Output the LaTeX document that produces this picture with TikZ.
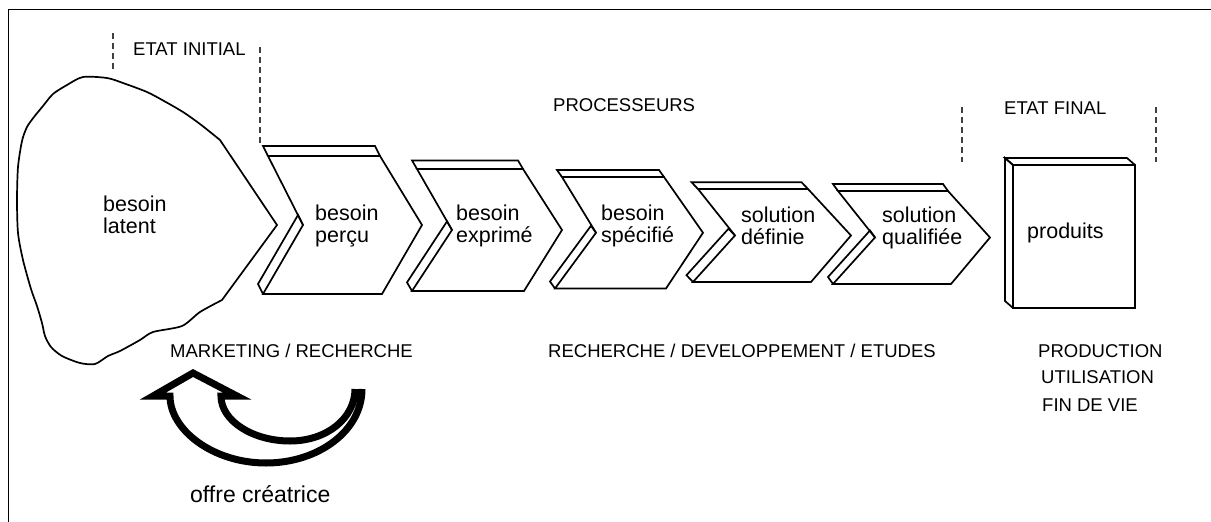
\documentclass[tikz,border=0pt]{standalone}
\usepackage{fontspec}
\setmainfont{Liberation Sans}
\tikzset{
  chev/.style={draw=black, line width=1.7pt, line join=miter},
  blob/.style={draw=black, line width=1.7pt},
  dashline/.style={draw=black!75, line width=1.1pt, dash pattern=on 6pt off 4pt},
  lbl/.style={inner sep=0pt, anchor=west, align=left, font=\fontsize{21.5}{21.5}\selectfont},
  caps/.style={inner sep=0pt, anchor=west, align=left, font=\fontsize{18.5}{26}\selectfont},
  bigarrow/.style={draw=black, line width=7pt, line cap=butt, line join=miter, miter limit=30},
}
% #1 TLx #2 T #3 TRx #4 tipx #5 BRx #6 B #7 BLx #8 notchx #9 dy ; \dx set before
\newcommand{\mychev}[9]{%
  \draw[chev] (#1,#2) -- (#3,#2) -- (#4,{(#2+#6)/2}) -- (#5,#6) -- (#7,#6) -- (#8,{(#2+#6)/2}) -- cycle;
  \draw[chev] (#1,#2) -- ++(\dx,#9) -- ++({#3-#1},0) -- (#3,#2);
  \draw[chev] (#8,{(#2+#6)/2}) -- ++(\dx,#9) -- ++({#7-#8},{#6-(#2+#6)/2}) -- (#7,#6);
}
\begin{document}
\begin{tikzpicture}[x=1pt,y=-1pt]
\useasboundingbox (0,0) rectangle (1211,522);
\fill[white] (0,0) rectangle (1211,522);
% frame
\draw[line width=1pt] (8,522) -- (8,9) -- (1211,9);

% blob "besoin latent"
\draw[blob] plot[smooth, tension=0.45] coordinates {(222,300) (200,312) (182,326) (153,332) (140,340) (120,351) (108,356) (95,364) (80,363) (62,356) (51,347) (45,336) (42,323) (37,306) (31,289) (23,260) (18,233) (17,200) (18,167) (22,141) (27,127) (34,117) (43,106) (53,94) (67,85) (83,77) (107,78) (123,83) (147,92) (164,101) (183,112) (200,124) (220,140)} -- (277,225) -- cycle;

% chevrons
\def\dx{-5}
\mychev{268}{156}{380}{422}{382}{294}{263}{303}{-10}
\mychev{417}{169}{523}{562}{524}{291}{412}{452}{-8.6}
\mychev{562}{177}{664}{703}{666}{288.5}{555}{596}{-7}
\def\dx{-6.5}
\mychev{698}{189}{808}{851}{811}{282}{693}{735}{-6.8}
\def\dx{-5}
\mychev{838}{191}{948}{990}{951}{284}{833}{875}{-7}

% produits box
\draw[chev] (1013,165) rectangle (1135,308);
\draw[chev] (1013,165) -- (1005,158) -- (1127,158) -- (1135,165);
\draw[chev] (1013,165) -- (1005,158) -- (1005,301) -- (1013,308);

% dashed separators
\draw[dashline] (113,33) -- (113,70);
\draw[dashline] (260,47) -- (260,143);
\draw[dashline] (962,107) -- (962,162);
\draw[dashline] (1156,107) -- (1156,162);

% labels
\node[caps] (etatinit) at (133,49) {ETAT INITIAL};
\node[caps] (proc) at (553,105) {PROCESSEURS};
\node[caps] (etatfinal) at (1004,108) {ETAT FINAL};

\node[lbl] (latent) at (103,215) {besoin\\latent};
\node[lbl] (percu) at (315,226) {besoin\\perçu};
\node[lbl] (exprime) at (456,226) {besoin\\exprimé};
\node[lbl] (specifie) at (601,226) {besoin\\spécifié};
\node[lbl] (definie) at (741,226) {solution\\définie};
\node[lbl] (qualifiee) at (882,228) {solution\\qualifiée};
\node[lbl] (produits) at (1027,233) {produits};

\node[caps] (mark) at (170,351) {MARKETING / RECHERCHE};
\node[caps] (rde) at (548,351) {RECHERCHE / DEVELOPPEMENT / ETUDES};
\node[caps] (prod) at (1038,351) {PRODUCTION};
\node[caps] (util) at (1041,377) {UTILISATION};
\node[caps] (fin) at (1042,405) {FIN DE VIE};
\node[lbl, font=\fontsize{23}{23}\selectfont] (offre) at (190,494) {offre créatrice};

% curved "offre créatrice" arrow
\draw[bigarrow] (362,389) .. controls (362,431) and (318,463) .. (266,463)
  .. controls (213,463) and (170,430) .. (170,396)
  -- (153,396) -- (193,373) -- (237,396) -- (221,396)
  .. controls (221,421) and (253,441) .. (290,441)
  .. controls (327,441) and (355,418) .. (355,389);
\end{tikzpicture}
\end{document}
